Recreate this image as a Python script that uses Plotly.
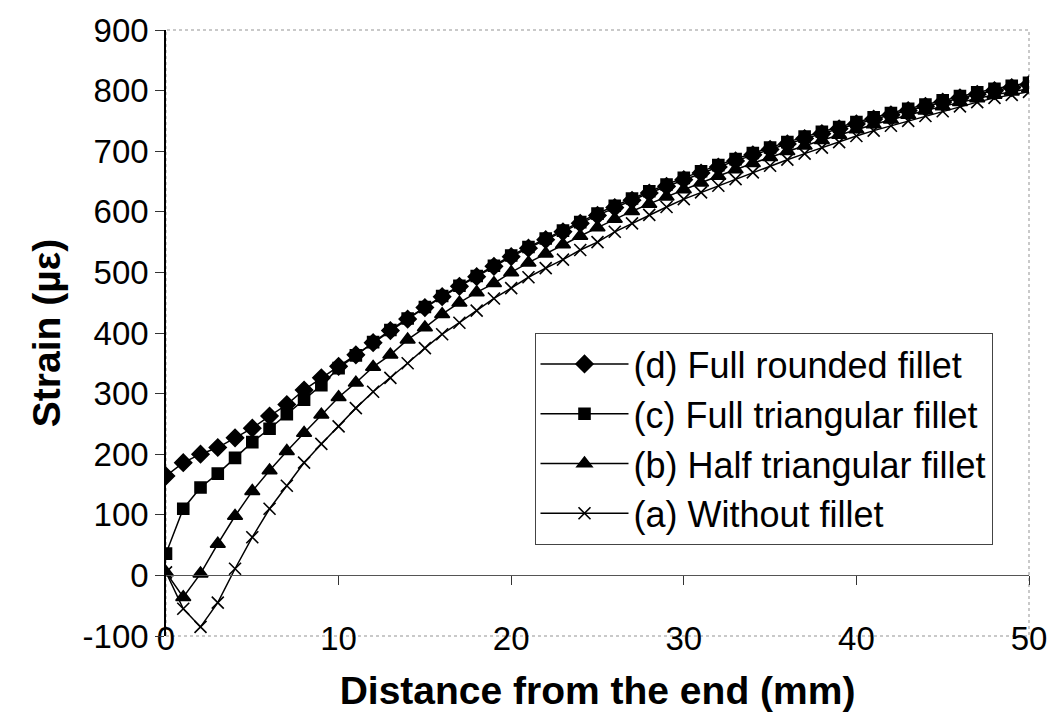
import plotly.graph_objects as go

# Distance from the end (mm): one reading per millimetre
distance_mm = list(range(0, 51))

# Axis tick labels
x_ticks = [0, 10, 20, 30, 40, 50]
y_ticks = [-100, 0, 100, 200, 300, 400, 500, 600, 700, 800, 900]
y_tick_text = ["-100", "0", "100", "200", "300", "400", "500", "600", "700", "800", "900"]

# Strain readings (micro-strain) for each fillet configuration
strain_rounded = [164, 186, 200, 211, 227, 243, 263, 282, 306, 326,
                  345, 364, 384, 404, 423, 442, 460, 477, 493, 510,
                  526, 540, 554, 567, 581, 594, 607, 619, 631, 642,
                  653, 664, 674, 684, 694, 703, 712, 721, 729, 737,
                  745, 753, 760, 767, 774, 781, 788, 794, 800, 805, 810]
strain_full_tri = [36, 110, 145, 168, 194, 220, 242, 266, 290, 314,
                   342, 363, 385, 405, 424, 443, 461, 478, 494, 511,
                   528, 542, 556, 569, 583, 597, 610, 622, 634, 645,
                   656, 667, 677, 687, 697, 706, 715, 724, 732, 740,
                   748, 756, 763, 770, 777, 784, 791, 797, 803, 808, 813]
strain_half_tri = [5, -36, 3, 52, 98, 139, 173, 205, 235, 265,
                   294, 318, 344, 364, 389, 409, 431, 450, 467, 482,
                   500, 516, 531, 546, 560, 574, 588, 601, 613, 625,
                   637, 648, 659, 670, 680, 690, 700, 709, 718, 727,
                   736, 744, 752, 760, 767, 774, 781, 787, 793, 798, 803]
strain_no_fillet = [5, -55, -85, -45, 11, 63, 110, 148, 186, 217,
                    246, 276, 303, 326, 350, 375, 398, 417, 437, 457,
                    474, 492, 507, 521, 537, 550, 567, 581, 595, 608,
                    621, 632, 643, 654, 665, 676, 686, 696, 706, 715,
                    725, 734, 742, 750, 758, 766, 774, 781, 788, 793, 798]

series = [
    ("(d) Full rounded fillet", strain_rounded, "diamond", 13),
    ("(c) Full triangular fillet", strain_full_tri, "square", 11),
    ("(b) Half triangular fillet", strain_half_tri, "triangle-up", 13),
    ("(a) Without fillet", strain_no_fillet, "x-thin", 12),
]

FONT = "Liberation Sans, Arial, sans-serif"

fig = go.Figure()
for name, values, symbol, size in series:
    marker = dict(symbol=symbol, size=size, color="black",
                  line=dict(color="black", width=1.6))
    fig.add_trace(go.Scatter(
        x=distance_mm, y=values, name=name, mode="lines+markers",
        line=dict(color="black", width=1.5), marker=marker,
    ))

# Frame around the plotting area (light, dotted)
fig.add_shape(type="rect", xref="paper", yref="paper", x0=0, x1=1, y0=0, y1=1,
              line=dict(color="rgba(120,120,120,0.8)", width=1, dash="dot"),
              layer="below")

fig.update_layout(
    width=1059, height=723,
    margin=dict(l=166, r=25, t=26, b=87),
    paper_bgcolor="white", plot_bgcolor="white",
    font=dict(family=FONT, color="black"),
    showlegend=True,
    legend=dict(
        x=0.427, y=0.5, xanchor="left", yanchor="top",
        bgcolor="white", bordercolor="#444", borderwidth=1,
        font=dict(size=36, family=FONT, color="black"),
        tracegroupgap=0, itemwidth=88,
    ),
    xaxis=dict(
        range=[0, 50], tickvals=x_ticks,
        showgrid=False, zeroline=False, showline=False,
        ticks="", ticklabelstandoff=-20,
        tickfont=dict(size=33, family=FONT),
        title=dict(text="<b>Distance from the end (mm)</b>",
                   font=dict(size=39, family=FONT), standoff=20),
    ),
    xaxis2=dict(
        range=[0, 50], tickvals=x_ticks[1:], overlaying="x",
        anchor="free", position=0.1, side="bottom",
        showgrid=False, zeroline=False, showline=True,
        linecolor="#555", linewidth=1,
        ticks="outside", ticklen=9, tickcolor="#333", tickwidth=1,
        showticklabels=False,
    ),
    yaxis=dict(
        range=[-100, 900], tickvals=y_ticks, ticktext=y_tick_text,
        showgrid=False, zeroline=False,
        showline=True, linecolor="black", linewidth=1.5,
        ticks="outside", ticklen=9, tickcolor="#333", tickwidth=1,
        tickfont=dict(size=33, family=FONT),
        title=dict(text="<b>Strain (µε)</b>",
                   font=dict(size=39, family=FONT), standoff=10),
    ),
)

# Invisible helper trace so the axis drawn at zero strain is rendered
fig.add_trace(go.Scatter(x=[0], y=[0], xaxis="x2", yaxis="y",
                         mode="markers", marker=dict(opacity=0),
                         showlegend=False, hoverinfo="skip"))

fig.write_html("out.html")
